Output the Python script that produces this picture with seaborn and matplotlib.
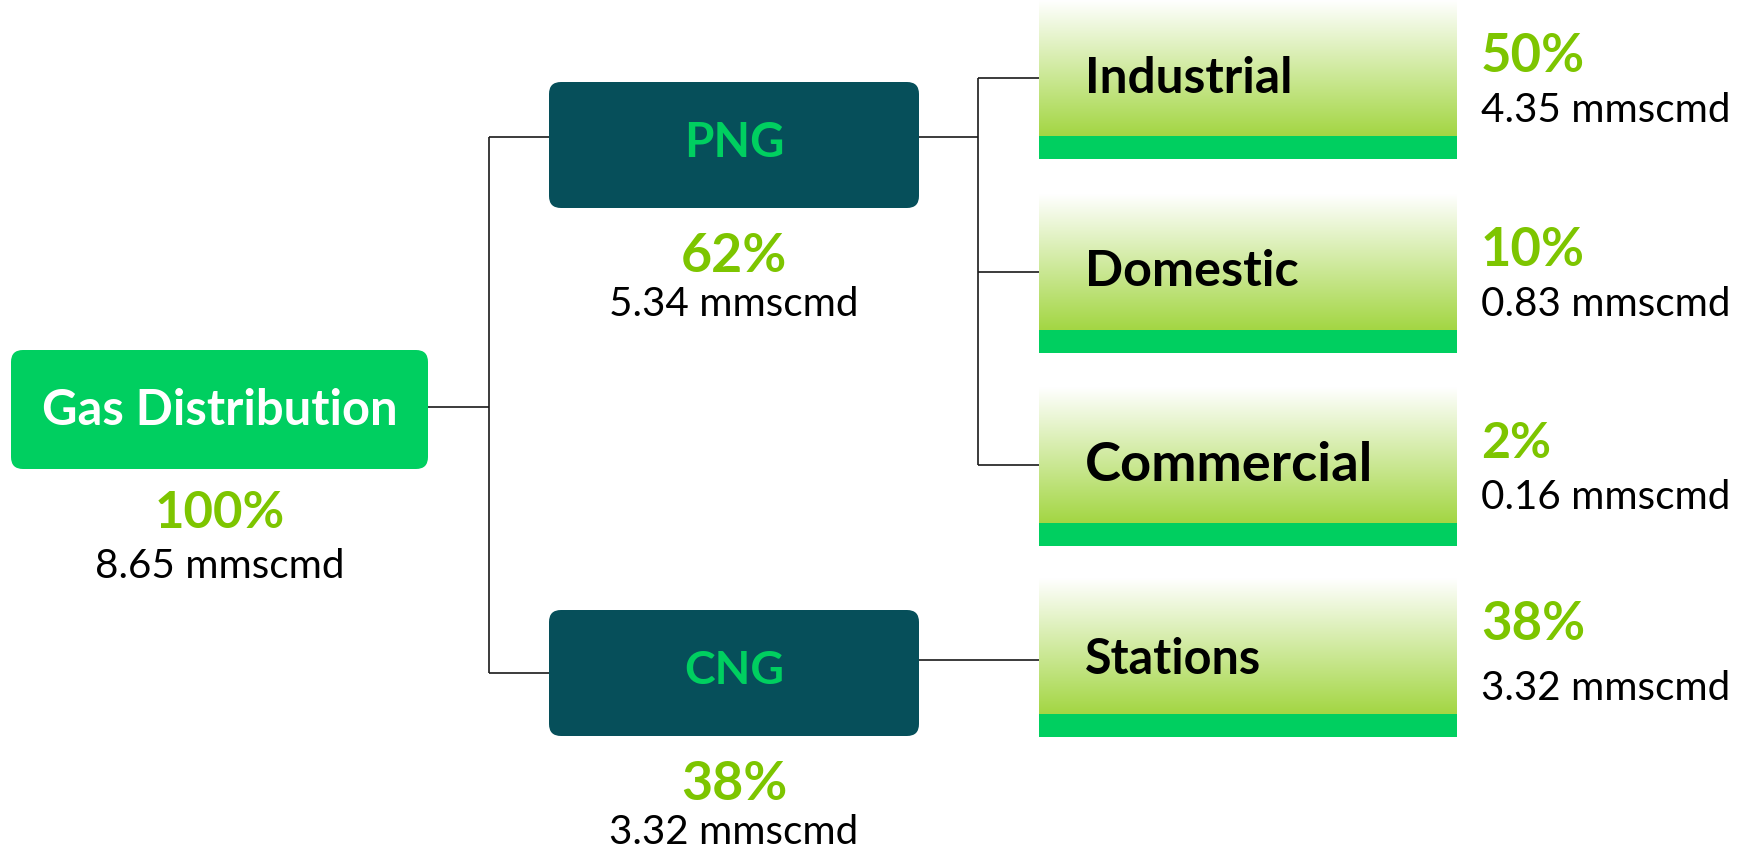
import numpy as np
import matplotlib
matplotlib.use("Agg")
import matplotlib.pyplot as plt
from matplotlib.patches import FancyBboxPatch, Rectangle
from matplotlib.colors import LinearSegmentedColormap
import seaborn as sns

# Chart data
root_label = "Gas Distribution"
root_share = 100
root_volume = 8.65

branch_labels = ["PNG", "CNG"]
branch_shares = [62, 38]
branch_volumes = [5.34, 3.32]

leaf_labels = ["Industrial", "Domestic", "Commercial", "Stations"]
leaf_parents = ["PNG", "PNG", "PNG", "CNG"]
leaf_shares = [50, 10, 2, 38]
leaf_volumes = [4.35, 0.83, 0.16, 3.32]

# Colours
GREEN = "#00cf60"
TEAL = "#064f5a"
PCT_GREEN = "#7dc500"
LEAF_BOTTOM = "#a3d643"

sns.set_theme(style="white")
plt.rcParams["font.family"] = ["Lato", "DejaVu Sans"]

W, H = 1742, 850
fig = plt.figure(figsize=(W / 100, H / 100), dpi=100)
ax = fig.add_axes([0, 0, 1, 1])
ax.set_xlim(0, W)
ax.set_ylim(H, 0)
ax.axis("off")
renderer = fig.canvas.get_renderer()


def fit_text(x, y, s, width, ha="center", **kw):
    # size the text so it spans roughly the width seen in the reference
    t = ax.text(x, y, s, ha=ha, va="center", fontsize=30, **kw)
    bb = t.get_window_extent(renderer)
    t.set_fontsize(30 * width / bb.width)
    return t


def vol_text(v):
    return f"{v:.2f} mmscmd"


def rbox(x0, y0, x1, y1, color):
    ax.add_patch(FancyBboxPatch((x0, y0), x1 - x0, y1 - y0,
                                boxstyle="round,pad=0,rounding_size=12",
                                fc=color, ec="none", zorder=2))


line_kw = dict(color="#1a1a1a", lw=1.2, zorder=1, solid_capstyle="butt")

# Root node
rbox(11, 350, 428, 469, GREEN)
fit_text(220, 410, root_label, 355, color="white", fontweight="bold")
fit_text(220, 514, f"{root_share}%", 130, color=PCT_GREEN, fontweight="bold")
fit_text(220, 566, vol_text(root_volume), 249, color="black")

# Branch nodes
branch_y = {"PNG": (82, 208), "CNG": (610, 736)}
branch_line_y = {"PNG": 137, "CNG": 673}
for lab, share, vol in zip(branch_labels, branch_shares, branch_volumes):
    y0, y1 = branch_y[lab]
    rbox(549, y0, 919, y1, TEAL)
    fit_text(734, (y0 + y1) / 2 - 2, lab, 100, color=GREEN, fontweight="bold")
    fit_text(734, y1 + 48, f"{share}%", 106, color=PCT_GREEN, fontweight="bold")
    fit_text(734, y1 + 96, vol_text(vol), 249, color="black")

# root connectors
ax.plot([428, 489], [407, 407], **line_kw)
ax.plot([489, 489], [branch_line_y["PNG"], branch_line_y["CNG"]], **line_kw)
for lab in branch_labels:
    ax.plot([489, 549], [branch_line_y[lab]] * 2, **line_kw)

# Leaf nodes
leaf_tops = [0, 194, 387, 578]
leaf_text_w = [207, 214, 288, 176]
grad = LinearSegmentedColormap.from_list("leaf", ["#ffffff", LEAF_BOTTOM])
gradient = np.linspace(0, 1, 256).reshape(-1, 1)
lx0, lx1 = 1039, 1457
for i, (lab, par, share, vol) in enumerate(zip(leaf_labels, leaf_parents,
                                                leaf_shares, leaf_volumes)):
    top = leaf_tops[i]
    band = top + 136
    ax.imshow(gradient, cmap=grad, extent=[lx0, lx1, band, top],
              aspect="auto", zorder=2, interpolation="bilinear")
    ax.add_patch(Rectangle((lx0, band), lx1 - lx0, 23, fc=GREEN, ec="none", zorder=2))
    ty = top + 78 if lab != "Stations" else top + 82
    fit_text(1085, ty, lab, leaf_text_w[i], ha="left", color="black",
             fontweight="bold")
    if lab == "Stations":
        py, vy = top + 46, top + 111
    else:
        py, vy = top + 56, top + 110
    fit_text(1481, py, f"{share}%", 104 if share >= 10 else 70, ha="left",
             color=PCT_GREEN, fontweight="bold")
    fit_text(1481, vy, vol_text(vol), 249, ha="left", color="black")
    ax.plot([978 if par == "PNG" else 919, lx0], [ty, ty], **line_kw)

# PNG to leaf connectors
ax.plot([919, 978], [137, 137], **line_kw)
ax.plot([978, 978], [leaf_tops[0] + 78, leaf_tops[2] + 78], **line_kw)

ax.set_xlim(0, W)
ax.set_ylim(H, 0)
fig.savefig("out.png", dpi=100, facecolor="white")
